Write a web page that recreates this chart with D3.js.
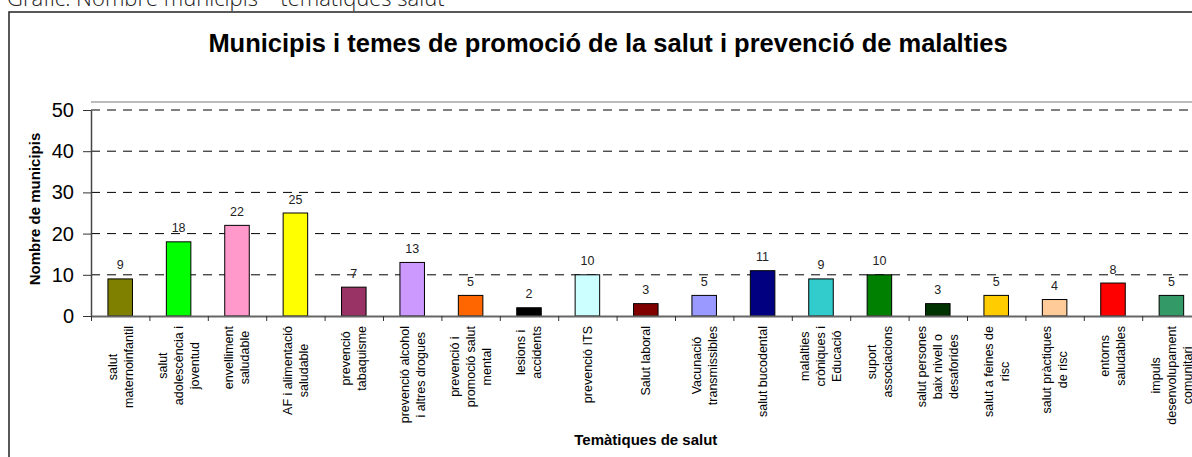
<!DOCTYPE html>
<html>
<head>
<meta charset="utf-8">
<script src="https://cdn.jsdelivr.net/npm/d3@7"></script>
<style>
  body { margin: 0; background: #fff; }
  svg { display: block; font-family: "Liberation Sans", Arial, sans-serif; }
</style>
</head>
<body>
<svg id="chart" width="1192" height="457"></svg>
<script>
// data
var categories = [
  "salut\nmaternoinfantil",
  "salut\nadolescència i\njoventud",
  "envelliment\nsaludable",
  "AF i alimentació\nsaludable",
  "prevenció\ntabaquisme",
  "prevenció alcohol\ni altres drogues",
  "prevenció i\npromoció salut\nmental",
  "lesions i\naccidents",
  "prevenció ITS",
  "Salut laboral",
  "Vacunació\ntransmissibles",
  "salut bucodental",
  "malalties\ncròniques i\nEducació",
  "suport\nassociacions",
  "salut persones\nbaix nivell o\ndesaforides",
  "salut  a feines de\nrisc",
  "salut  pràctiques\nde risc",
  "entorns\nsaludables",
  "impuls\ndesenvolupament\ncomunitari"
];
var values = [9, 18, 22, 25, 7, 13, 5, 2, 10, 3, 5, 11, 9, 10, 3, 5, 4, 8, 5];
var colors = ["#808000", "#00ff00", "#ff99cc", "#ffff00", "#993366", "#cc99ff", "#ff6600",
              "#000000", "#ccffff", "#800000", "#9999ff", "#000080", "#33cccc", "#008000",
              "#003300", "#ffcc00", "#ffcc99", "#ff0000", "#339966"];
var yTicks = [0, 10, 20, 30, 40, 50];

var svg = d3.select("#chart");

// caption above the chart (cut off at the top in the original)
svg.append("text")
  .attr("x", 7).attr("y", 6)
  .attr("font-family", "'Open Sans', 'DejaVu Sans', sans-serif")
  .attr("font-weight", 300)
  .attr("font-size", 22)
  .attr("fill", "#222")
  .text("Gràfic: Nombre municipis – temàtiques salut");

// chart frame
svg.append("rect")
  .attr("x", 9).attr("y", 12)
  .attr("width", 1300).attr("height", 600)
  .attr("fill", "#fff")
  .attr("stroke", "#222").attr("stroke-width", 1.5);

svg.append("text")
  .attr("x", 608).attr("y", 52)
  .attr("text-anchor", "middle")
  .attr("font-weight", "bold")
  .attr("font-size", 25.5)
  .text("Municipis i temes de promoció de la salut i prevenció de malalties");

var plotL = 91, plotR = 1200.6, plotT = 110, plotB = 316;

var y = d3.scaleLinear().domain([0, 50]).range([plotB, plotT]);
var x = d3.scaleBand().domain(d3.range(values.length)).range([plotL, plotR]).padding(0);
var xEdge = d3.scaleLinear().domain([0, values.length]).range([plotL, plotR]);
var barW = x.bandwidth() * 0.42;

// plot area top border
svg.append("line")
  .attr("x1", plotL).attr("x2", plotR)
  .attr("y1", 102).attr("y2", 102)
  .attr("stroke", "#bbb").attr("stroke-width", 2);

// dashed gridlines
svg.append("g")
  .selectAll("line")
  .data(yTicks.filter(d => d > 0))
  .join("line")
  .attr("x1", plotL).attr("x2", plotR)
  .attr("y1", d => y(d)).attr("y2", d => y(d))
  .attr("stroke", "#000")
  .attr("stroke-dasharray", "9,7");

// bars
svg.append("g")
  .selectAll("rect")
  .data(values)
  .join("rect")
  .attr("x", (d, i) => x(i) + (x.bandwidth() - barW) / 2)
  .attr("y", d => y(d))
  .attr("width", barW)
  .attr("height", d => y(0) - y(d))
  .attr("fill", (d, i) => colors[i])
  .attr("stroke", "#000").attr("stroke-width", 1);

// value labels
svg.append("g")
  .selectAll("text")
  .data(values)
  .join("text")
  .attr("x", (d, i) => x(i) + x.bandwidth() / 2)
  .attr("y", d => y(d) - 9.5)
  .attr("text-anchor", "middle")
  .attr("font-size", 12.5)
  .attr("fill", "#222")
  .text(d => d);

// y axis
var yAxis = svg.append("g")
  .attr("transform", `translate(${plotL},0)`)
  .call(d3.axisLeft(y).tickValues(yTicks).tickSizeInner(8).tickSizeOuter(0).tickPadding(9));
yAxis.select(".domain").attr("stroke", "#444").attr("stroke-width", 1.5);
yAxis.selectAll(".tick line").attr("stroke", "#333");
yAxis.selectAll(".tick text")
  .attr("font-size", 20)
  .attr("font-family", "'Liberation Sans', Arial, sans-serif")
  .attr("fill", "#000");

// x axis, ticks on category edges
var xAxis = svg.append("g")
  .attr("transform", `translate(0,${plotB})`)
  .call(d3.axisBottom(xEdge).tickValues(d3.range(values.length + 1)).tickFormat("")
    .tickSizeInner(5).tickSizeOuter(0));
xAxis.select(".domain").attr("stroke", "#666").attr("stroke-width", 2);
xAxis.selectAll(".tick line").attr("stroke", "#333");

// rotated category labels
var fs = 12.5, lineH = 16, labelTop = 326;
var labels = svg.append("g")
  .selectAll("g")
  .data(categories)
  .join("g");
labels.each(function(d, i) {
  var lines = d.split("\n");
  var g = d3.select(this);
  var t = g.append("text")
    .attr("font-size", fs)
    .attr("text-anchor", "middle")
    .attr("fill", "#000");
  t.selectAll("tspan")
    .data(lines)
    .join("tspan")
    .attr("x", 0)
    .attr("y", (l, j) => (j - (lines.length - 1) / 2) * lineH + fs * 0.35)
    .text(l => l);
  var maxW = d3.max(t.selectAll("tspan").nodes(), n => n.getComputedTextLength());
  t.attr("transform", `translate(${x(i) + x.bandwidth() / 2},${labelTop + maxW / 2}) rotate(-90)`);
});

// axis titles
svg.append("text")
  .attr("transform", `translate(40,${(plotT - 8 + plotB) / 2}) rotate(-90)`)
  .attr("text-anchor", "middle")
  .attr("font-weight", "bold")
  .attr("font-size", 15)
  .text("Nombre de municipis");

svg.append("text")
  .attr("x", (plotL + plotR) / 2).attr("y", 445)
  .attr("text-anchor", "middle")
  .attr("font-weight", "bold")
  .attr("font-size", 15)
  .text("Temàtiques de salut");
</script>
</body>
</html>
